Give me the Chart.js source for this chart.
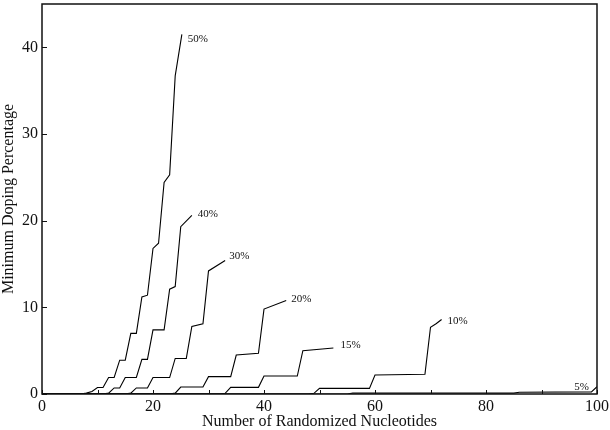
<!DOCTYPE html>
<html>
<head>
<meta charset="utf-8">
<script src="https://cdn.jsdelivr.net/npm/chart.js@4.4.1/dist/chart.umd.min.js"></script>
<style>
  html, body { margin: 0; padding: 0; background: #fff; }
  #chart { display: block; }
</style>
</head>
<body>
<canvas id="chart" width="610" height="430"></canvas>
<script>
// Curves: x = randomized nucleotides, y = minimum doping %
const x50 = [0, 7, 8, 9, 10, 11, 12, 13, 14, 15, 16, 17, 18, 19, 20, 21, 22, 23, 24, 25.2];
const y50 = [0, 0, 0.1, 0.3, 0.75, 0.75, 1.9, 1.9, 3.9, 3.9, 7.0, 7.0, 11.2, 11.4, 16.8, 17.4, 24.4, 25.3, 36.7, 41.5];

const x40 = [0, 11, 12, 13, 14, 15, 17, 18, 19, 20, 22, 23, 24, 25, 27];
const y40 = [0, 0, 0.1, 0.7, 0.7, 1.9, 1.9, 4.0, 4.0, 7.4, 7.4, 12.1, 12.4, 19.3, 20.6];

const x30 = [0, 15, 16, 17, 19, 20, 23, 24, 26, 27, 29, 30, 33];
const y30 = [0, 0, 0.1, 0.7, 0.7, 1.9, 1.9, 4.1, 4.1, 7.8, 8.1, 14.2, 15.4];

const x20 = [0, 23, 24, 25, 29, 30, 34, 35, 39, 40, 44];
const y20 = [0, 0, 0.1, 0.8, 0.8, 2.0, 2.0, 4.5, 4.7, 9.8, 10.8];

const x15 = [0, 32, 33, 34, 39, 40, 46, 47, 52.5];
const y15 = [0, 0, 0.08, 0.77, 0.77, 2.07, 2.07, 5.0, 5.3];

const x10 = [0, 48, 49, 50, 59, 60, 69, 70, 71, 72];
const y10 = [0, 0, 0.08, 0.65, 0.65, 2.2, 2.27, 7.7, 8.1, 8.6];

const x5 = [0, 55, 56, 85, 86, 99, 100];
const y5 = [0, 0, 0.1, 0.1, 0.2, 0.25, 0.85];

const curveNames = ['50%', '40%', '30%', '20%', '15%', '10%', '5%'];
const xTicks = [0, 20, 40, 60, 80, 100];
const yTicks = [0, 10, 20, 30, 40];

const serif = '"Liberation Serif", "Times New Roman", serif';

function points(xs, ys) {
    return xs.map((v, i) => ({ x: v, y: ys[i] }));
}

// where each curve's name sits relative to its last point
const labelPlace = [
    { dx: 6, dy: 5, align: 'left' },
    { dx: 6, dy: -1, align: 'left' },
    { dx: 4, dy: -4, align: 'left' },
    { dx: 5, dy: -1, align: 'left' },
    { dx: 7, dy: -3, align: 'left' },
    { dx: 6, dy: 2, align: 'left' },
    { dx: -8, dy: 0, align: 'right' }
];

const allX = [x50, x40, x30, x20, x15, x10, x5];
const allY = [y50, y40, y30, y20, y15, y10, y5];

const datasets = curveNames.map((name, i) => ({
    label: name,
    data: points(allX[i], allY[i]),
    borderColor: '#000',
    borderWidth: 1.1,
    pointRadius: 0,
    tension: 0,
    fill: false
}));

// Curve names at the end of each line
const curveLabels = {
    id: 'curveLabels',
    afterDatasetsDraw(chart) {
        const { ctx, scales: { x, y } } = chart;
        ctx.save();
        ctx.font = '11px ' + serif;
        ctx.fillStyle = '#111';
        ctx.textBaseline = 'middle';
        chart.data.datasets.forEach((ds, i) => {
            const last = ds.data[ds.data.length - 1];
            const p = labelPlace[i];
            ctx.textAlign = p.align;
            ctx.fillText(ds.label, x.getPixelForValue(last.x) + p.dx, y.getPixelForValue(last.y) + p.dy);
        });
        ctx.restore();
    }
};

// Box frame and inward tick marks
const frameTicks = {
    id: 'frameTicks',
    afterDraw(chart) {
        const { ctx, chartArea: a, scales: { x, y } } = chart;
        ctx.save();
        ctx.strokeStyle = '#111';
        ctx.lineWidth = 1;
        ctx.beginPath();
        x.ticks.forEach(t => {
            const px = Math.round(x.getPixelForValue(t.value)) + 0.5;
            ctx.moveTo(px, a.bottom);
            ctx.lineTo(px, a.bottom - 4);
        });
        y.ticks.forEach(t => {
            if (!yTicks.includes(t.value)) return;
            const py = Math.round(y.getPixelForValue(t.value)) + 0.5;
            ctx.moveTo(a.left, py);
            ctx.lineTo(a.left + 5, py);
        });
        ctx.stroke();
        ctx.lineWidth = 1.5;
        ctx.strokeRect(a.left, a.top, a.right - a.left, a.bottom - a.top);
        ctx.restore();
    }
};

const ctx = document.getElementById('chart').getContext('2d');
new Chart(ctx, {
    type: 'line',
    data: { datasets: datasets },
    options: {
        responsive: false,
        animation: false,
        layout: { padding: { top: 4, right: 13, left: 0, bottom: 0 } },
        plugins: {
            legend: { display: false },
            tooltip: { enabled: false }
        },
        scales: {
            x: {
                type: 'linear',
                min: 0,
                max: 100,
                grid: { display: false, drawTicks: false },
                border: { display: false },
                ticks: {
                    stepSize: 10,
                    autoSkip: false,
                    maxRotation: 0,
                    padding: 3,
                    color: '#111',
                    font: { family: serif, size: 16 },
                    callback: v => xTicks.includes(v) ? v : ''
                },
                title: {
                    display: true,
                    text: 'Number of Randomized Nucleotides',
                    color: '#111',
                    font: { family: serif, size: 16, lineHeight: 1 },
                    padding: 0
                },
                afterFit: s => { s.height = 36; s.paddingLeft = 0; s.paddingRight = 0; }
            },
            y: {
                min: 0,
                max: 45,
                grid: { display: false, drawTicks: false },
                border: { display: false },
                ticks: {
                    stepSize: 10,
                    padding: 4,
                    color: '#111',
                    font: { family: serif, size: 16 },
                    callback: v => yTicks.includes(v) ? v : ''
                },
                title: {
                    display: true,
                    text: 'Minimum Doping Percentage',
                    color: '#111',
                    font: { family: serif, size: 16, lineHeight: 1 },
                    padding: { top: 1, bottom: 0 }
                },
                afterFit: s => { s.width = 42; s.paddingTop = 0; s.paddingBottom = 0; }
            }
        }
    },
    plugins: [curveLabels, frameTicks]
});
</script>
</body>
</html>
